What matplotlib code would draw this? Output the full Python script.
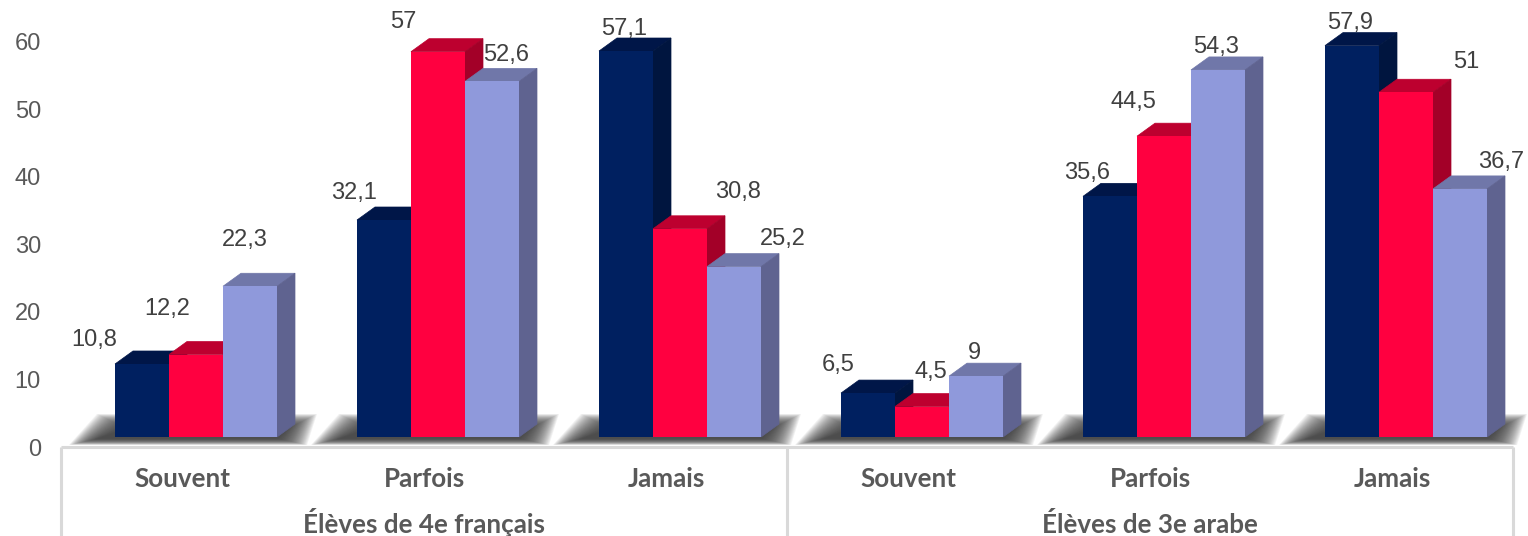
import matplotlib
matplotlib.use("Agg")
import matplotlib.pyplot as plt
from matplotlib.transforms import ScaledTranslation

categories = ["Souvent", "Parfois", "Jamais", "Souvent", "Parfois", "Jamais"]
groups = ["Élèves de 4e français", "Élèves de 3e arabe"]
series_a = [10.8, 32.1, 57.1, 6.5, 35.6, 57.9]
series_b = [12.2, 57, 30.8, 4.5, 44.5, 51]
series_c = [22.3, 52.6, 25.2, 9, 54.3, 36.7]
yticks = [0, 10, 20, 30, 40, 50, 60]

# label offsets from each bar's top-centre, in pixels (hand-placed in the original)
off_a = [(-48, 26), (-30, 29), (-2, 24), (-30, 30), (-23, 25), (-2, 25)]
off_b = [(-29, 47.5), (-35, 32), (58, 39), (9, 37), (-31, 36), (60, 32)]
off_c = [(-5, 48), (14, 28), (49, 30), (-2, 25), (-2, 25), (41, 29)]

W, H = 1528, 536
Y0, PX_U, PX_C = 437, 6.76, 242
fig = plt.figure(figsize=(W / 100, H / 100), dpi=100)
ax = fig.add_axes([61 / W, (H - Y0) / H, 1452 / W, Y0 / H])
ax.set_xlim(-0.5, 5.5)
ax.set_ylim(0, Y0 / PX_U)
for s in ax.spines.values():
    s.set_visible(False)

px = 0.72
bw = 54 / PX_C
shift = 14 / PX_C
dx = 18 / PX_C
dy = 13 / PX_U
styles = [
    (series_a, off_a, "#002060", "#001648", "#00153f"),
    (series_b, off_b, "#ff0040", "#bd002f", "#a30028"),
    (series_c, off_c, "#8f99db", "#7077a9", "#5f6390"),
]

# blurred floor shadow, built from stacked translucent polygons
layers = 30
for i in range(len(categories)):
    xl = i + shift - 1.5 * bw
    xr = i + shift + 1.5 * bw
    for k in range(layers):
        ins = k * 1.0
        xs = [xl - (46 - ins) / PX_C, xl - (18 - ins) / PX_C,
              xr + (40 - ins) / PX_C, xr + (30 - ins) / PX_C]
        top = (23 - ins * 0.5) / PX_U
        bot = -(8 - ins * 0.22) / PX_U
        ax.fill(xs, [bot, top, top, bot], color="#3a3a3a", alpha=0.065, lw=0,
                clip_on=False, zorder=1)

z = 2
for i in range(len(categories)):
    for j, (vals, offs, front, topc, side) in enumerate(styles):
        v = vals[i]
        x = i + shift + (j - 1) * bw
        l, r = x - bw / 2, x + bw / 2
        ax.fill([l, l + dx, r + dx, r], [v, v + dy, v + dy, v], color=topc, lw=0.5, zorder=z)
        ax.fill([r, r + dx, r + dx, r], [0, dy, v + dy, v], color=side, lw=0.5, zorder=z)
        ax.bar(x, v, width=bw, color=front, lw=0, zorder=z + 0.5)
        z += 1
        ax.annotate(str(v).replace(".", ","), (x, v),
                    xytext=(offs[i][0] * px, (offs[i][1] - 8) * px), textcoords="offset points",
                    ha="center", va="baseline", fontsize=17, color="#404040",
                    family="Liberation Sans", zorder=200, annotation_clip=False)

ax.set_yticks(yticks)
ax.tick_params(axis="y", length=0, pad=14.5, labelsize=17, labelcolor="#595959")
down = ScaledTranslation(0, -10 / 100, fig.dpi_scale_trans)
for lab in ax.get_yticklabels():
    lab.set_family("Liberation Sans")
    lab.set_transform(lab.get_transform() + down)

ax.set_xticks(range(len(categories)))
ax.set_xticklabels(categories, fontsize=18.7, fontweight="bold", color="#595959", family="Lato",
                   va="baseline")
ax.tick_params(axis="x", which="major", length=0, pad=36)

sec = ax.secondary_xaxis("bottom")
sec.spines["bottom"].set_visible(False)
sec.set_xticks([1, 4])
sec.set_xticklabels(groups, fontsize=18.7, fontweight="bold", color="#595959", family="Lato",
                    va="baseline")
sec.tick_params(axis="x", length=0, pad=69)

# multi-level category frame
line = dict(color="#d9d9d9", lw=2.2, transform=ax.get_xaxis_transform(), clip_on=False, zorder=1.5,
            solid_capstyle="butt")
yl = -10 / Y0
ax.plot([-0.5, 5.5], [yl, yl], **line)
for xv in [-0.5, 2.5, 5.5]:
    ax.plot([xv, xv], [yl, -100 / Y0], **line)

fig.savefig("out.png", dpi=100, facecolor="white")
